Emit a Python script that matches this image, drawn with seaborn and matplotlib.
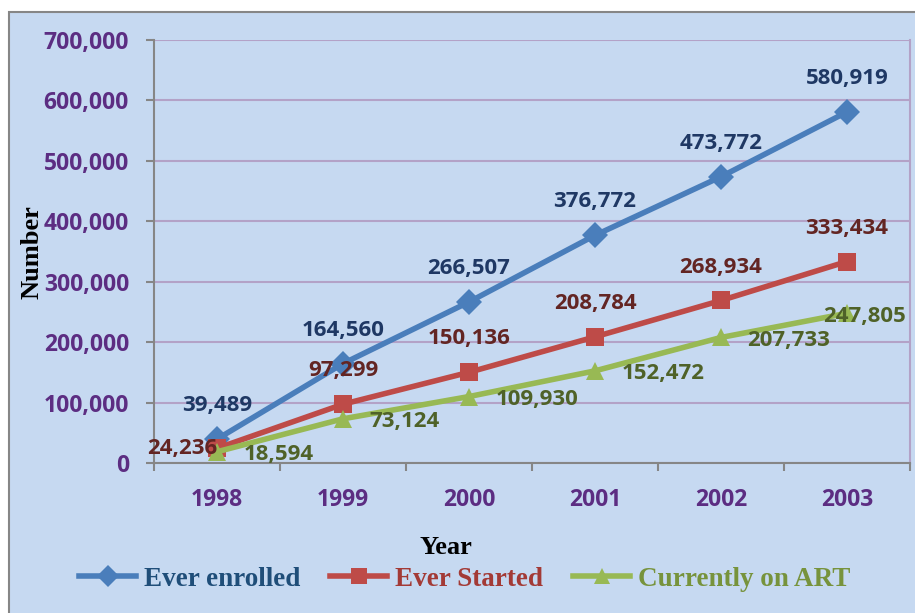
import numpy as np
import pandas as pd
import matplotlib
matplotlib.use('Agg')
import matplotlib.pyplot as plt
import seaborn as sns
from matplotlib.patches import Rectangle
from matplotlib.lines import Line2D
from matplotlib.ticker import FuncFormatter

# data
years = [1998, 1999, 2000, 2001, 2002, 2003]
ever_enrolled = [39489, 164560, 266507, 376772, 473772, 580919]
ever_started = [24236, 97299, 150136, 208784, 268934, 333434]
currently_on_art = [18594, 73124, 109930, 152472, 207733, 247805]
series_names = ['Ever enrolled', 'Ever Started', 'Currently on ART']
y_ticks = [0, 100000, 200000, 300000, 400000, 500000, 600000, 700000]

df = pd.DataFrame({
    'Year': years * 3,
    'Number': ever_enrolled + ever_started + currently_on_art,
    'Series': np.repeat(series_names, len(years)),
})

line_colors = {'Ever enrolled': '#4a7ebb', 'Ever Started': '#be4b48', 'Currently on ART': '#98b954'}
label_colors = {'Ever enrolled': '#1f3864', 'Ever Started': '#632523', 'Currently on ART': '#4f6228'}
legend_colors = {'Ever enrolled': '#1f4e79', 'Ever Started': '#a33a36', 'Currently on ART': '#77933c'}
markers = {'Ever enrolled': 'D', 'Ever Started': 's', 'Currently on ART': '^'}
bg = '#c6d9f1'
tick_color = '#5c2d82'
grid_color = '#b3a2c7'
sans = 'Open Sans'

fig = plt.figure(figsize=(9.15, 6.13), dpi=100)
fig.patch.set_facecolor('white')
fig.patches.append(Rectangle((9 / 915, -0.01), 1.0, 1 - 12 / 613 + 0.01, transform=fig.transFigure,
                             facecolor=bg, edgecolor='#868686', lw=1.5, zorder=-1))

ax = fig.add_axes([154 / 915, 150 / 613, 756 / 915, 423 / 613])
ax.patch.set_alpha(0)

sns.lineplot(data=df, x='Year', y='Number', hue='Series', style='Series',
             palette=line_colors, markers=markers, dashes=False, lw=4,
             markersize=13, markeredgewidth=0, legend=False, ax=ax)

# data labels
lab_font = dict(family=sans, weight='bold', size=16)
for name, vals in zip(series_names, [ever_enrolled, ever_started, currently_on_art]):
    for i, (yr, v) in enumerate(zip(years, vals)):
        if name == 'Currently on ART':
            if i == len(years) - 1:
                off, ha = (-17, -2), 'left'
            else:
                off, ha = (19, -2), 'left'
        elif name == 'Ever Started' and i == 0:
            off, ha = (0, 0), 'right'
        else:
            off, ha = (0, 24), 'center'
        ax.annotate(f'{v:,}', (yr, v), xytext=off, textcoords='offset points',
                    ha=ha, va='center', color=label_colors[name], **lab_font)

ax.set_ylim(0, 700000)
ax.set_yticks(y_ticks)
ax.yaxis.set_major_formatter(FuncFormatter(lambda v, p: f'{int(v):,}'))
ax.set_xlim(1997.5, 2003.5)
ax.set_xticks(np.arange(1997.5, 2004, 1))
ax.set_xticklabels([])
ax.set_xticks(years, minor=True)
ax.set_xticklabels([str(y) for y in years], minor=True)

ax.yaxis.grid(True, color=grid_color, lw=1.5)
ax.set_axisbelow(True)
for s in ['left', 'bottom']:
    ax.spines[s].set_color('#868686')
    ax.spines[s].set_linewidth(1.5)
ax.spines['top'].set_visible(False)
ax.spines['right'].set_color(grid_color)
ax.spines['right'].set_linewidth(1.5)

ax.tick_params(axis='both', which='major', direction='out', length=6, width=1.5, color='#868686')
ax.tick_params(axis='y', pad=12)
ax.tick_params(axis='x', which='minor', length=0, pad=18)
for t in ax.get_yticklabels() + ax.get_xticklabels(minor=True):
    t.set_fontfamily(sans)
    t.set_fontweight('bold')
    t.set_fontsize(16.5)
    t.set_color(tick_color)

ax.set_xlabel('')
ax.set_ylabel('')
serif = dict(family='Liberation Serif', weight='bold', size=19)
fig.text(446 / 915, 1 - 548 / 613, 'Year', ha='center', va='center', color='black', **serif)
fig.text(32 / 915, 1 - 252 / 613, 'Number', ha='center', va='center', rotation=90, color='black', **serif)

handles = [Line2D([], [], color=line_colors[n], lw=4, marker=markers[n], markersize=11,
                  markeredgewidth=0) for n in series_names]
leg = fig.legend(handles, series_names, loc='center', bbox_to_anchor=(465 / 915, 1 - 579 / 613),
                 ncol=3, frameon=False, handlelength=2.1, handletextpad=0.3, columnspacing=1.1,
                 prop={'family': 'Liberation Serif', 'weight': 'bold', 'size': 19.5})
for txt, n in zip(leg.get_texts(), series_names):
    txt.set_color(legend_colors[n])

fig.savefig('out.png', dpi=100)
